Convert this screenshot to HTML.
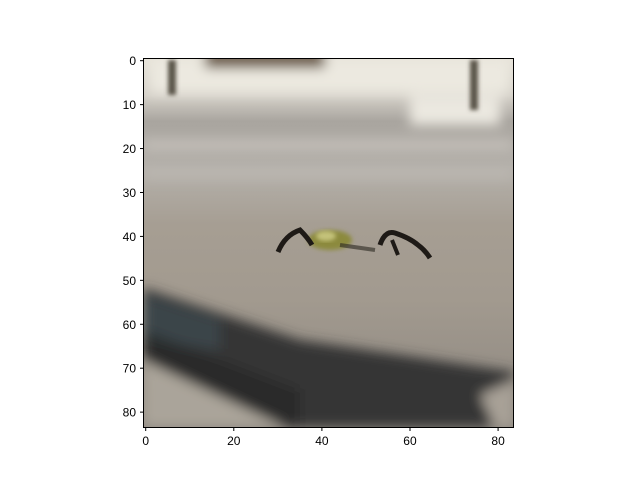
<!DOCTYPE html>
<html><head><meta charset="utf-8"><style>
body{margin:0;background:#fff;}
svg text{font-family:"Liberation Sans",sans-serif;font-size:12px;fill:#000;}
</style></head><body>
<svg width="640" height="480" viewBox="0 0 640 480">
<defs>
<filter id="b" x="-10%" y="-10%" width="120%" height="120%"><feGaussianBlur stdDeviation="6"/></filter>
<filter id="s" x="-20%" y="-20%" width="140%" height="140%"><feGaussianBlur stdDeviation="2"/></filter>
<clipPath id="c"><rect x="143.5" y="58.5" width="370" height="369"/></clipPath>
<linearGradient id="bg" x1="0" y1="0" x2="0" y2="1">
<stop offset="0" stop-color="#e6e2d8"/><stop offset="0.1" stop-color="#d4d0c8"/>
<stop offset="0.17" stop-color="#a9a59f"/><stop offset="0.3" stop-color="#b4b0aa"/>
<stop offset="0.45" stop-color="#a69e93"/><stop offset="0.65" stop-color="#a29a8f"/>
<stop offset="1" stop-color="#8d8780"/></linearGradient>
</defs>
<g clip-path="url(#c)">
<rect x="143.5" y="58.5" width="370" height="369" fill="url(#bg)"/>
<g filter="url(#b)">
<rect x="150" y="58" width="360" height="35" fill="#ece9e0"/>
<rect x="205" y="52" width="120" height="16" fill="#5e4a32"/>
<rect x="410" y="95" width="90" height="30" fill="#ebe8e0"/>
<rect x="143" y="140" width="370" height="10" fill="#c4c0ba"/>
<rect x="143" y="170" width="370" height="8" fill="#bdb9b3"/>
<polygon points="143,288 300,340 514,372 514,427 143,427" fill="#353534"/>
<polygon points="143,295 220,320 220,350 143,340" fill="#3b4448"/>
<polygon points="143,330 300,390 300,427 143,427" fill="#1e1e1d" opacity="0.5"/>
<polygon points="143,360 143,427 285,427" fill="#aaa49a"/>
<polygon points="480,395 514,380 514,427 495,427" fill="#a8a197"/>
</g>
<g filter="url(#s)">
<rect x="168" y="60" width="8" height="35" fill="#5a5448"/>
<rect x="470" y="60" width="8" height="50" fill="#5a5448"/>
</g>
<g>
<ellipse cx="330" cy="240" rx="22" ry="10" fill="#8c8a3e" filter="url(#s)"/>
<ellipse cx="326" cy="236" rx="10" ry="5" fill="#c4c27a" filter="url(#s)"/>
<path d="M278 252 Q285 235 300 230 Q308 238 312 245" stroke="#1e1a16" stroke-width="5" fill="none"/>
<path d="M380 245 Q385 230 395 233 Q410 238 418 245 Q425 250 430 258" stroke="#1e1a16" stroke-width="5" fill="none"/>
<path d="M340 245 L375 250" stroke="#2a2620" stroke-width="4" fill="none" opacity="0.6"/>
<path d="M392 240 L398 255" stroke="#1e1a16" stroke-width="4" fill="none"/>
</g>
</g>
<rect x="143.5" y="58.5" width="370" height="369" fill="none" stroke="#000" stroke-width="1"/>
<g id="xa"></g>
<g id="ya"></g>
<script>
const xTicks=[0,20,40,60,80];
const yTicks=[0,10,20,30,40,50,60,70,80];
const nPix=84;
const x0=143.5,y0=58.5,sz=370;
const sx=v=>x0+(v+0.5)*sz/nPix, sy=v=>y0+(v+0.5)*369/nPix;
const NS="http://www.w3.org/2000/svg";
const xa=document.getElementById('xa'),ya=document.getElementById('ya');
xTicks.forEach(t=>{
 const l=document.createElementNS(NS,'line');
 
 
 l.setAttribute('x1',sx(t));l.setAttribute('x2',sx(t));l.setAttribute('y1',427.5);l.setAttribute('y2',431);l.setAttribute('stroke','#000');
 xa.appendChild(l);
 const tx=document.createElementNS(NS,'text');
 
 
 tx.setAttribute('x',sx(t));tx.setAttribute('y',445);tx.setAttribute('text-anchor','middle');tx.textContent=t;
 xa.appendChild(tx);
});
yTicks.forEach(t=>{
 const l=document.createElementNS(NS,'line');
 
 
 l.setAttribute('x1',140);l.setAttribute('x2',143.5);l.setAttribute('y1',sy(t));l.setAttribute('y2',sy(t));l.setAttribute('stroke','#000');
 ya.appendChild(l);
 const tx=document.createElementNS(NS,'text');
 
 
 tx.setAttribute('x',136);tx.setAttribute('y',sy(t)+4.5);tx.setAttribute('text-anchor','end');tx.textContent=t;
 ya.appendChild(tx);
});
</script>
</svg>
</body></html>
